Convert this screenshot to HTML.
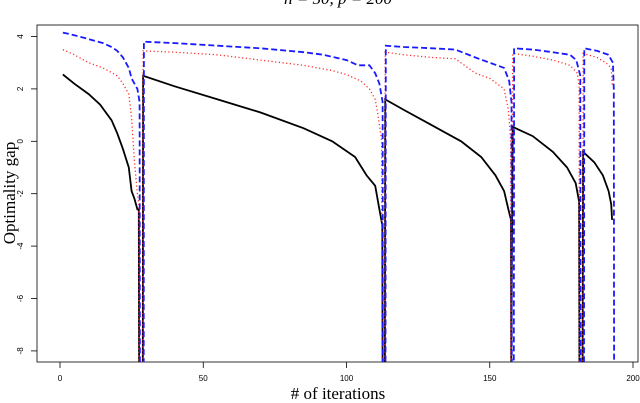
<!DOCTYPE html>
<html><head><meta charset="utf-8"><style>
body{margin:0;background:#fff;width:640px;height:403px;overflow:hidden}
svg{display:block}
.tk{font-family:"Liberation Sans",sans-serif;font-size:8px;fill:#000}
.lab{font-family:"Liberation Serif",serif;font-size:17px;fill:#000}
</style></head><body>
<svg id="chart" width="640" height="403">
<defs><clipPath id="pc"><rect x="37" y="25" width="601" height="337"/></clipPath></defs>
<text class="lab" x="338" y="4" text-anchor="middle" font-style="italic">n = 50, p = 200</text>
<rect x="37" y="25" width="601" height="337" fill="none" stroke="#000" stroke-width="0.8"/>
<g id="xaxis"></g>
<g id="yaxis"></g>
<text class="lab" x="338" y="399" text-anchor="middle"># of iterations</text>
<text class="lab" transform="translate(15,193) rotate(-90)" text-anchor="middle">Optimality gap</text>
<g id="series" clip-path="url(#pc)"></g>
</svg>
<script>
const xTicks=[0,50,100,150,200];
const yTicks=[-8,-6,-4,-2,0,2,4];
const blackX=[1,5,10,14,18,20,22,24,25,26,27,27.5,27.6,28.9,29,40,55,70,85,95,103,107,110,111.5,112.5,112.6,113.4,113.5,120,130,140,147,152,155,156.5,157.4,157.5,158,165,172,177,180,181.2,181.3,182.4,182.6,186.5,189.5,191.5,192.4,192.7];
const blackY=[2.55,2.2,1.8,1.4,0.8,0.3,-0.3,-1.0,-1.9,-2.2,-2.6,-2.6,-8.8,-8.8,2.5,2.1,1.6,1.1,0.5,0.0,-0.6,-1.3,-1.7,-2.6,-3.2,-8.8,-8.8,1.6,1.2,0.6,0.0,-0.6,-1.3,-1.9,-2.6,-3.0,-8.8,0.55,0.2,-0.4,-1.0,-1.6,-2.3,-8.8,-8.8,-0.4,-0.8,-1.3,-1.9,-2.4,-3.0];
const redX=[1,5,10,15,20,22,24,25,26,27,27.5,27.6,28.9,29,40,55,70,85,95,100,105,108,110,111,112.3,112.4,113.4,113.5,120,130,138,145,150,155,156.5,157.3,157.4,158,165,172,178,180.6,181.2,181.3,182.5,182.6,187.5,190.5,192.4,192.8];
const redY=[3.5,3.3,3.0,2.8,2.5,2.2,1.8,0.9,-0.8,-2.0,-2.4,-8.8,-8.8,3.45,3.4,3.3,3.1,2.9,2.7,2.55,2.3,2.0,1.6,1.0,0.0,-8.8,-8.8,3.4,3.3,3.2,3.15,2.6,2.4,2.0,1.2,0.0,-8.8,3.35,3.25,3.1,2.9,2.6,2.1,-8.8,-8.8,3.35,3.2,3.0,2.8,2.1];
const blueX=[1,5,10,15,18,20,22,24,25,26,27,27.8,27.9,29.2,29.3,40,55,70,85,92,100,104,108,110,111.5,112.6,112.7,113.6,113.7,120,130,138,145,150,155,156.8,157.6,157.7,158.4,158.5,165,172,178,180.2,181.6,181.7,182.9,183,187.5,191.4,193,193.3,193.4];
const blueY=[4.15,4.05,3.9,3.75,3.6,3.45,3.2,2.8,2.4,2.2,2.0,1.5,-8.8,-8.8,3.8,3.75,3.65,3.55,3.4,3.3,3.1,2.9,2.9,2.6,2.2,1.5,-8.8,-8.8,3.65,3.6,3.55,3.5,3.2,3.0,2.8,2.3,1.5,-8.8,-8.8,3.55,3.5,3.4,3.3,3.1,2.5,-8.8,-8.8,3.55,3.45,3.3,3.0,2.0,-8.8];
const X=v=>60+v*2.865;
const Y=v=>141.3-v*26.2;
const NS="http://www.w3.org/2000/svg";
const xa=document.getElementById('xaxis'),ya=document.getElementById('yaxis'),sg=document.getElementById('series');
xTicks.forEach(t=>{
  const l=document.createElementNS(NS,'line');
  
  
  l.setAttribute('x1',X(t));l.setAttribute('x2',X(t));l.setAttribute('y1',362);l.setAttribute('y2',368);l.setAttribute('stroke','#000');l.setAttribute('stroke-width','0.8');
  xa.appendChild(l);
  const tx=document.createElementNS(NS,'text');
  
  
  tx.setAttribute('class','tk');tx.setAttribute('x',X(t));tx.setAttribute('y',381);tx.setAttribute('text-anchor','middle');tx.textContent=t;
  xa.appendChild(tx);
});
yTicks.forEach(t=>{
  const l=document.createElementNS(NS,'line');
  
  
  l.setAttribute('x1',31);l.setAttribute('x2',37);l.setAttribute('y1',Y(t));l.setAttribute('y2',Y(t));l.setAttribute('stroke','#000');l.setAttribute('stroke-width','0.8');
  ya.appendChild(l);
  const tx=document.createElementNS(NS,'text');
  
  
  tx.setAttribute('class','tk');tx.setAttribute('text-anchor','middle');
  tx.setAttribute('transform','translate(23,'+Y(t)+') rotate(-90)');tx.textContent=t;
  ya.appendChild(tx);
});
function draw(xs,ys,color,dash,w,name){
  const p=document.createElementNS(NS,'polyline');
  
  
  p.setAttribute('points',xs.map((x,i)=>X(x).toFixed(1)+','+Y(ys[i]).toFixed(1)).join(' '));
  p.setAttribute('fill','none');p.setAttribute('stroke',color);p.setAttribute('stroke-width',w);
  if(dash)p.setAttribute('stroke-dasharray',dash);
  sg.appendChild(p);
}
draw(blackX,blackY,'#000','',1.8,'black-solid-series');
draw(redX,redY,'#ff2a2a','1.2 2.5',1.3,'red-dotted-series');
draw(blueX,blueY,'#1a1aff','6 3',1.8,'blue-dashed-series');
</script>
</body></html>
